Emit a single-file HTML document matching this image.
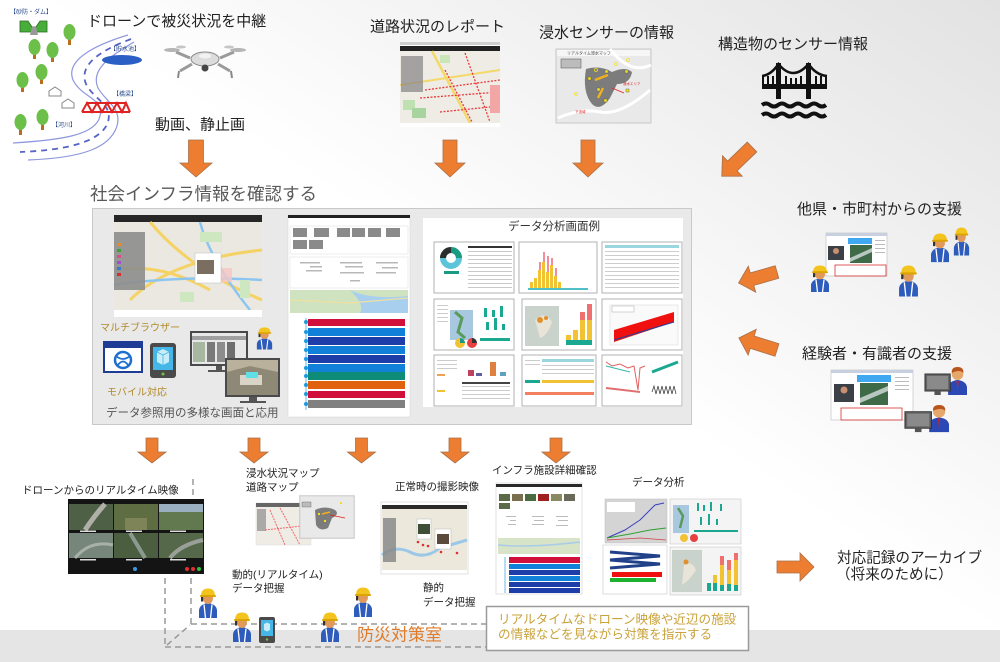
<!DOCTYPE html>
<html><head><meta charset="utf-8">
<style>
html,body{margin:0;padding:0;width:1000px;height:662px;overflow:hidden;background:#fff}
svg{display:block}
text{font-family:"Liberation Sans","Noto Sans CJK JP",sans-serif;dominant-baseline:central}
</style></head><body>
<svg width="1000" height="662" viewBox="0 0 1000 662" xmlns="http://www.w3.org/2000/svg">
<defs>
<linearGradient id="bg" x1="1" y1="0" x2="0" y2="1">
 <stop offset="0" stop-color="#e2e2e2"/>
 <stop offset="0.48" stop-color="#ffffff"/>
 <stop offset="1" stop-color="#ffffff"/>
</linearGradient>
<g id="wk">
 <path d="M1,30 L1,22 Q2,16 10,15 Q18,16 19,22 L19,30 Z" fill="#2d5cbc"/>
 <path d="M6,16.5 L7.5,30 M14,16.5 L12.5,30" stroke="#fff" stroke-width="1.3"/>
 <ellipse cx="10" cy="10.5" rx="5" ry="5.5" fill="#e19a5c"/>
 <path d="M3,8 Q3,0.5 10,0.5 Q17,0.5 17,8 Z" fill="#f4c41e"/>
 <rect x="2" y="7" width="16" height="2" rx="1" fill="#dca400"/>
 <rect x="3" y="9" width="2.2" height="4.5" fill="#333"/>
</g>
<g id="ex">
 <path d="M22,30 L22,22 Q23,16 31,15 Q39,16 40,22 L40,30 Z" fill="#2b48b4"/>
 <path d="M30,16 L31,28 L32,16 Z" fill="#d02020"/>
 <ellipse cx="31" cy="9" rx="5.5" ry="6" fill="#e6a86a"/>
 <path d="M25.5,8 Q25,2 31,2 Q37,2 36.5,8 Q33,4 25.5,8 Z" fill="#b8541c"/>
 <rect x="0" y="9" width="24" height="17" fill="#666" stroke="#333" stroke-width="1"/>
 <rect x="2" y="11" width="20" height="13" fill="#8a8a8a"/>
 <rect x="9" y="26" width="6" height="4" fill="#555"/>
</g>
<g id="ast"><polygon points="0,-6.5 26,-6.5 26,-13.5 40,0 26,13.5 26,6.5 0,6.5" fill="#ed7d31" stroke="#a9714a" stroke-width="0.8"/></g>
</defs>

<rect width="1000" height="662" fill="url(#bg)"/>
<rect x="0" y="630" width="1000" height="32" fill="#e5e5e5"/>

<!-- ===== Top-left illustration ===== -->
<text x="10" y="13" font-size="6" fill="#2a4a8a">【砂防・ダム】</text>
<path d="M20,21 L28,21 L32,27 L36,27 L40,21 L47,21 L47,32 L20,32 Z" fill="#49ad3c" stroke="#2a6a20" stroke-width="0.8"/>
<polygon points="32,27 36,27 38,35 30,35" fill="#999"/>
<g>
 <rect x="68" y="38" width="3" height="7" fill="#b86e1c"/><ellipse cx="69.5" cy="32" rx="6" ry="8" fill="#6cc04a"/>
 <rect x="33" y="52" width="3" height="7" fill="#b86e1c"/><ellipse cx="34.5" cy="47" rx="6" ry="8" fill="#6cc04a"/>
 <rect x="51" y="55" width="3" height="7" fill="#b86e1c"/><ellipse cx="52.5" cy="50" rx="6" ry="8" fill="#6cc04a"/>
 <rect x="40" y="77" width="3" height="7" fill="#b86e1c"/><ellipse cx="41.5" cy="72" rx="6" ry="8" fill="#6cc04a"/>
 <rect x="21" y="85" width="3" height="7" fill="#b86e1c"/><ellipse cx="22.5" cy="80" rx="6" ry="8" fill="#6cc04a"/>
 <rect x="19" y="128" width="3" height="7" fill="#b86e1c"/><ellipse cx="20.5" cy="122" rx="6" ry="8" fill="#6cc04a"/>
 <rect x="41" y="123" width="3" height="7" fill="#b86e1c"/><ellipse cx="42.5" cy="117" rx="6" ry="8" fill="#6cc04a"/>
</g>
<path d="M128,35 C95,45 65,60 73,80 C82,98 104,98 100,116 C96,135 62,140 13,143" fill="none" stroke="#8e98dc" stroke-width="1.2"/>
<path d="M131,39 C102,50 78,64 86,84 C94,100 113,104 108,122 C102,140 72,150 20,152" fill="none" stroke="#5563c4" stroke-width="1.8" stroke-dasharray="6 5"/>
<path d="M134,42 C110,56 90,70 98,88 C106,102 122,108 117,126 C110,148 82,158 28,160" fill="none" stroke="#8e98dc" stroke-width="1.2"/>
<text x="110" y="50" font-size="6" fill="#2a4a8a">【貯水池】</text>
<ellipse cx="122" cy="60" rx="20" ry="5" fill="#2b5fc6"/>
<text x="113" y="95" font-size="6" fill="#2a4a8a">【橋梁】</text>
<path d="M82,112 L130,112 M86,103 L126,103 M82,112 L87,103 L92,112 L97,103 L102,112 L107,103 L112,112 L117,103 L122,112 L126,103 L130,112" fill="none" stroke="#e02222" stroke-width="2"/>
<path d="M49,96 L49,91 L55,87 L61,91 L61,96 Z M62,108 L62,103 L68,99 L74,103 L74,108 Z" fill="#fff" stroke="#888" stroke-width="1"/>
<text x="52" y="126" font-size="6" fill="#2a4a8a">【河川】</text>

<text x="87" y="21.5" font-size="15" fill="#222">ドローンで被災状況を中継</text>
<!-- drone -->
<g>
 <path d="M190,58 L176,52 M220,58 L234,52 M192,64 L180,71 M218,64 L230,71" stroke="#9a9a9a" stroke-width="3"/>
 <ellipse cx="172" cy="50" rx="8" ry="2" fill="#b5b5b5"/><ellipse cx="238" cy="50" rx="8" ry="2" fill="#b5b5b5"/>
 <ellipse cx="181" cy="47" rx="5" ry="1.5" fill="#c5c5c5"/><ellipse cx="229" cy="47" rx="5" ry="1.5" fill="#c5c5c5"/>
 <path d="M179,71 L178,78 M231,71 L232,78" stroke="#888" stroke-width="2"/>
 <ellipse cx="205" cy="59" rx="14" ry="7" fill="#dcdcdc" stroke="#8a8a8a" stroke-width="1"/>
 <circle cx="205" cy="68" r="3.5" fill="#444"/>
 <ellipse cx="205" cy="56" rx="6" ry="2.5" fill="#f2f2f2"/>
</g>
<text x="155" y="125" font-size="15" fill="#222">動画、静止画</text>

<!-- ===== top middle ===== -->
<text x="370" y="27" font-size="15" fill="#222">道路状況のレポート</text>
<rect x="400" y="42" width="100" height="85" fill="#fff"/>
<rect x="400" y="42" width="100" height="3" fill="#cfcfcf"/>
<rect x="400" y="46" width="100" height="5" fill="#222"/>
<rect x="400" y="51" width="100" height="72" fill="#efece6"/>
<path d="M432,51 L470,123" stroke="#f3d86a" stroke-width="2.5"/>
<path d="M400,85 L500,70" stroke="#f3d86a" stroke-width="2"/>
<rect x="403" y="100" width="12" height="10" fill="#bfe0b0"/><rect x="412" y="108" width="14" height="10" fill="#a8d4a0"/>
<rect x="440" y="55" width="10" height="8" fill="#c8e6b8"/>
<path d="M465,53 L490,122 M445,70 L472,122 M425,90 L500,80 M420,98 L500,92 M440,112 L500,106" stroke="#e83a3a" stroke-width="1.3" stroke-dasharray="2 1.5"/>
<rect x="490" y="85" width="10" height="28" fill="#f2a6a6"/>
<rect x="401" y="56" width="22" height="36" fill="#8a8a8a" opacity="0.75"/>
<rect x="400" y="123" width="100" height="4" fill="#fff"/>

<text x="539" y="33" font-size="15" fill="#222">浸水センサーの情報</text>
<rect x="556" y="49" width="95" height="74" fill="#e9e9e9" stroke="#c8c8c8" stroke-width="1"/>
<rect x="557" y="50" width="93" height="6" fill="#f6f6f6"/>
<text x="567" y="53" font-size="4" fill="#444">リアルタイム浸水マップ</text>
<rect x="561" y="59" width="20" height="9" fill="#bcbcbc" stroke="#666" stroke-width="0.6"/>
<path d="M558,118 Q580,108 600,112 T650,90 M610,49 Q630,75 651,65" stroke="#fff" stroke-width="3" fill="none"/>
<path d="M586,69 Q600,65 612,72 Q625,66 632,72 Q630,84 617,84 L610,98 Q600,112 592,104 Q582,92 586,69 Z" fill="#7c7c7c"/>
<path d="M595,80 L608,75 M598,98 L603,88" stroke="#f0b020" stroke-width="2.5"/>
<g fill="#f5e020" stroke="#555" stroke-width="0.4"><rect x="588" y="77" width="3" height="3"/><rect x="605" y="70" width="3" height="3"/><rect x="597" y="88" width="3" height="3"/><rect x="604" y="99" width="3" height="3"/><rect x="625" y="70" width="3" height="3"/><rect x="626" y="89" width="3" height="3"/></g>
<g fill="none" stroke="#f5e020" stroke-width="0.8"><circle cx="596" cy="70" r="1.5"/><circle cx="616" cy="64" r="1.5"/><circle cx="628" cy="60" r="1.5"/><circle cx="576" cy="94" r="1.5"/></g>
<path d="M612,88 L624,93" stroke="#e02020" stroke-width="0.8"/>
<text x="623" y="84" font-size="3.5" fill="#e02020">浸水エリア</text>
<text x="575" y="112" font-size="3.5" fill="#e02020">下流域</text>

<text x="718" y="44.5" font-size="15" fill="#222">構造物のセンサー情報</text>
<g fill="#111">
 <rect x="776" y="63" width="5" height="36"/><rect x="806" y="63" width="5" height="36"/>
 <rect x="762" y="84" width="65" height="5"/>
 <rect x="762" y="76" width="2" height="8"/><rect x="767" y="76" width="2" height="8"/><rect x="772" y="76" width="2" height="8"/>
 <rect x="785" y="76" width="2" height="8"/><rect x="790" y="78" width="2" height="6"/><rect x="795" y="78" width="2" height="6"/><rect x="800" y="76" width="2" height="8"/>
 <rect x="815" y="76" width="2" height="8"/><rect x="820" y="76" width="2" height="8"/><rect x="825" y="76" width="2" height="8"/>
</g>
<path d="M762,76 Q771,75 778.5,64 Q793,82 808.5,64 Q816,75 827,76" fill="none" stroke="#111" stroke-width="2.5"/>
<path d="M762,105 q4,-3 8,0 t8,0 t8,0 t8,0 t8,0 t8,0 t8,0 t8,0 M762,115 q4,-3 8,0 t8,0 t8,0 t8,0 t8,0 t8,0 t8,0 t8,0" fill="none" stroke="#111" stroke-width="4"/>

<!-- top arrows -->
<g fill="#ed7d31" stroke="#a9714a" stroke-width="0.8">
 <polygon points="188.5,140 203.5,140 203.5,163 212,163 196,177 180,163 188.5,163"/>
 <polygon points="443,140 457,140 457,163 465,163 450,177 435,163 443,163"/>
 <polygon points="581,140 595,140 595,163 603,163 588,177 573,163 581,163"/>
</g>
<use href="#ast" transform="translate(752,147) rotate(136) scale(1.05)"/>

<text x="90" y="194" font-size="17.5" fill="#595959">社会インフラ情報を確認する</text>

<!-- ===== middle panel ===== -->
<rect x="92.5" y="208.5" width="599" height="216" fill="#e9e9e9" stroke="#c9c9c9" stroke-width="1"/>
<!-- map screenshot -->
<rect x="114" y="215" width="148" height="102" fill="#fff"/>
<rect x="114" y="215" width="148" height="7" fill="#262626"/>
<rect x="114" y="222" width="148" height="88" fill="#ebe8e2"/>
<path d="M130,300 Q170,260 262,250 M150,222 Q190,270 262,300 M114,270 Q160,262 210,290" stroke="#f4d263" stroke-width="3" fill="none"/>
<path d="M114,285 Q180,275 262,280 M200,222 Q210,260 250,310" stroke="#8cc6f0" stroke-width="2.5" fill="none"/>
<rect x="200" y="232" width="22" height="10" fill="#cde7c0"/><rect x="180" y="292" width="14" height="10" fill="#cde7c0"/><rect x="240" y="280" width="10" height="18" fill="#cde7c0"/>
<rect x="210" y="268" width="22" height="14" fill="#f6c6c6" opacity="0.8"/>
<rect x="114" y="232" width="31" height="58" fill="#8d8d8d" opacity="0.9"/>
<g fill="#e58a2e"><rect x="117" y="243" width="4" height="3"/></g><g fill="#3aa040"><rect x="117" y="249" width="4" height="3"/></g><g fill="#d94d8a"><rect x="117" y="255" width="4" height="3"/></g><g fill="#a04fd0"><rect x="117" y="261" width="4" height="3"/></g><g fill="#3a7ad0"><rect x="117" y="267" width="4" height="3"/></g><g fill="#d03030"><rect x="117" y="273" width="4" height="3"/></g>
<rect x="195" y="253" width="26" height="30" fill="#fff" stroke="#bbb" stroke-width="0.5"/>
<rect x="197" y="260" width="17" height="14" fill="#7a6e60"/>
<rect x="114" y="310" width="148" height="7" fill="#fff"/>
<!-- detail screenshot -->
<rect x="288" y="215" width="122" height="202" fill="#fff" stroke="#d4d4d4" stroke-width="0.5"/>
<rect x="288" y="215" width="122" height="3" fill="#222"/>
<rect x="290" y="226" width="118" height="28" fill="#fff" stroke="#ddd" stroke-width="0.5"/>
<g fill="#8a8a8a"><rect x="293" y="228" width="14" height="9"/><rect x="314" y="228" width="15" height="9"/><rect x="337" y="228" width="13" height="9"/><rect x="352" y="228" width="13" height="9"/><rect x="368" y="228" width="13" height="9"/><rect x="386" y="228" width="14" height="9"/><rect x="293" y="240" width="14" height="9"/><rect x="309" y="240" width="14" height="9"/></g>
<rect x="290" y="257" width="118" height="31" fill="#fff" stroke="#ddd" stroke-width="0.5"/>
<g fill="#b8b8b8"><rect x="300" y="262" width="20" height="1.5"/><rect x="310" y="266" width="12" height="1.5"/><rect x="306" y="270" width="16" height="1.5"/><rect x="340" y="262" width="22" height="1.5"/><rect x="345" y="266" width="18" height="1.5"/><rect x="340" y="272" width="24" height="1.5"/><rect x="376" y="262" width="22" height="1.5"/><rect x="382" y="267" width="16" height="1.5"/><rect x="376" y="272" width="20" height="1.5"/><rect x="350" y="280" width="10" height="1.5"/></g>
<rect x="290" y="290" width="118" height="23" fill="#cfe3c0"/>
<path d="M350,290 Q370,300 408,296 L408,313 L360,313 Q365,305 350,290 Z" fill="#a8d0ee"/>
<path d="M290,300 L350,303 L408,298" stroke="#f0e0a0" stroke-width="1.2" fill="none"/>
<line x1="306" y1="318" x2="306" y2="410" stroke="#9ad0f0" stroke-width="1.5"/>
<rect x="308" y="319" width="97" height="7" fill="#d0103a"/>
<rect x="308" y="328" width="97" height="8" fill="#1180d8"/>
<rect x="308" y="337" width="97" height="8" fill="#1d3ea8"/>
<rect x="308" y="346" width="97" height="8" fill="#1180d8"/>
<rect x="308" y="355" width="97" height="8" fill="#1d3ea8"/>
<rect x="308" y="364" width="97" height="8" fill="#1180d8"/>
<rect x="308" y="372" width="97" height="8" fill="#0e8c78"/>
<rect x="308" y="381" width="97" height="8" fill="#e0620e"/>
<rect x="308" y="391" width="97" height="7" fill="#d0103a"/>
<rect x="308" y="400" width="97" height="8" fill="#808080"/>
<g fill="#1a9be0"><circle cx="306" cy="322" r="2"/><circle cx="306" cy="332" r="2"/><circle cx="306" cy="341" r="2"/><circle cx="306" cy="350" r="2"/><circle cx="306" cy="359" r="2"/><circle cx="306" cy="368" r="2"/><circle cx="306" cy="376" r="2"/><circle cx="306" cy="385" r="2"/><circle cx="306" cy="394" r="2"/><circle cx="306" cy="404" r="2"/></g>

<!-- multi browser area -->
<text x="100" y="328.5" font-size="10" fill="#b08a2a">マルチブラウザー</text>
<rect x="104" y="342" width="38" height="30" fill="#fff" stroke="#1e3c96" stroke-width="2"/>
<rect x="104" y="342" width="38" height="6" fill="#1e3c96"/>
<circle cx="123" cy="360" r="8" fill="none" stroke="#1e70d0" stroke-width="2.5"/>
<path d="M116,356 Q123,362 130,356 M118,365 Q123,358 128,365" stroke="#1e70d0" stroke-width="1.8" fill="none"/>
<rect x="150" y="343" width="26" height="35" rx="3" fill="#4a4a4a"/>
<rect x="153" y="347" width="20" height="23" fill="#44b6e8"/>
<path d="M157,352 L163,349 L169,352 L169,362 L163,365 L157,362 Z" fill="#c8ecf8"/>
<path d="M157,352 L163,355 L169,352 M163,355 L163,365" stroke="#44b6e8" stroke-width="0.8" fill="none"/>
<circle cx="163" cy="374" r="1.5" fill="#7ac040"/>
<text x="107" y="393" font-size="10" fill="#b08a2a">モバイル対応</text>
<!-- monitors -->
<rect x="190" y="331" width="58" height="35" fill="#4a4a4a"/>
<rect x="192" y="333" width="54" height="31" fill="#e8e8e8"/>
<rect x="192" y="336" width="54" height="4" fill="#a0a0a0"/>
<rect x="193" y="342" width="12" height="20" fill="#a8b8a0"/>
<rect x="207" y="342" width="8" height="20" fill="#7a7a7a"/><rect x="217" y="342" width="8" height="20" fill="#8c8c8c"/><rect x="227" y="342" width="8" height="20" fill="#6e6e6e"/>
<rect x="216" y="366" width="6" height="4" fill="#555"/><rect x="208" y="370" width="22" height="2" fill="#555"/>
<rect x="225" y="358" width="55" height="39" fill="#4a4a4a"/>
<rect x="227" y="360" width="51" height="35" fill="#b9b19c"/>
<path d="M227,372 L250,366 L278,372 L278,395 L227,395 Z" fill="#8e8876"/>
<rect x="240" y="375" width="22" height="10" fill="#d8d4c8"/>
<rect x="246" y="372" width="12" height="6" fill="#5ee0e6"/>
<rect x="249" y="397" width="8" height="4" fill="#555"/><rect x="240" y="401" width="26" height="2" fill="#555"/>
<use href="#wk" transform="translate(256,327) scale(0.85,0.75)"/>
<text x="106" y="413.5" font-size="11.5" fill="#555">データ参照用の多様な画面と応用</text>

<!-- data analysis panel -->
<rect x="423" y="218" width="260" height="189" fill="#fff"/>
<text x="508" y="227" font-size="11.5" fill="#333">データ分析画面例</text>
<g fill="#fff" stroke="#bdbdbd" stroke-width="1.2">
 <rect x="434" y="242" width="80" height="51"/><rect x="519" y="242" width="78" height="51"/><rect x="602" y="242" width="80" height="51"/>
 <rect x="434" y="299" width="80" height="51"/><rect x="522" y="299" width="74" height="51"/><rect x="602" y="299" width="80" height="51"/>
 <rect x="434" y="355" width="80" height="51"/><rect x="522" y="355" width="74" height="51"/><rect x="602" y="355" width="80" height="51"/>
</g>
<!-- R1C1 donut -->
<circle cx="451" cy="258" r="8" fill="none" stroke="#5cc4d8" stroke-width="6"/>
<path d="M451,250 A8,8 0 0 1 459,258" fill="none" stroke="#1a9a80" stroke-width="6"/>
<path d="M443,258 A8,8 0 0 1 451,250" fill="none" stroke="#2d2d2d" stroke-width="6"/>
<rect x="444" y="271" width="15" height="3" fill="#1a9a80"/>
<g fill="#c9c9c9"><rect x="468" y="246" width="44" height="2" fill="#333"/><rect x="468" y="251" width="44" height="1"/><rect x="468" y="255" width="44" height="1"/><rect x="468" y="259" width="44" height="1"/><rect x="468" y="263" width="44" height="1"/><rect x="468" y="267" width="44" height="1"/><rect x="468" y="271" width="44" height="1"/><rect x="468" y="275" width="44" height="1"/><rect x="468" y="279" width="44" height="1"/><rect x="468" y="283" width="44" height="1"/><rect x="468" y="287" width="44" height="1"/></g>
<!-- R1C2 histogram -->
<g fill="#f1c232"><rect x="530" y="282" width="3" height="8"/><rect x="534" y="278" width="3" height="12"/><rect x="538" y="270" width="3" height="20"/><rect x="542" y="262" width="3" height="28"/><rect x="546" y="272" width="3" height="18"/><rect x="550" y="265" width="3" height="25"/><rect x="554" y="276" width="3" height="14"/><rect x="558" y="282" width="3" height="8"/></g>
<g fill="#f08c9c"><rect x="539" y="262" width="2" height="8"/><rect x="543" y="252" width="2" height="10"/><rect x="547" y="256" width="2" height="16"/><rect x="551" y="258" width="2" height="7"/><rect x="555" y="268" width="2" height="8"/></g>
<rect x="528" y="288" width="60" height="2" fill="#4fc0c8"/>
<!-- R1C3 table -->
<rect x="605" y="245" width="74" height="3" fill="#9ad6e0"/>
<g fill="#cdcdcd"><rect x="605" y="251" width="74" height="1"/><rect x="605" y="255" width="74" height="1"/><rect x="605" y="259" width="74" height="1"/><rect x="605" y="263" width="74" height="1"/><rect x="605" y="267" width="74" height="1"/><rect x="605" y="271" width="74" height="1"/><rect x="605" y="275" width="74" height="1"/><rect x="605" y="279" width="74" height="1"/><rect x="605" y="283" width="74" height="1"/><rect x="605" y="287" width="74" height="1"/></g>
<!-- R2C1 -->
<rect x="450" y="310" width="23" height="30" fill="#a8c8e0"/><path d="M455,312 L462,318 L458,332 L465,338" stroke="#5a9a5a" stroke-width="3" fill="none"/>
<g fill="#1aa890"><rect x="478" y="305" width="34" height="12" fill="#fff"/><rect x="484" y="308" width="3" height="9"/><rect x="492" y="310" width="3" height="7"/><rect x="500" y="306" width="3" height="11"/><rect x="486" y="322" width="3" height="8"/><rect x="494" y="318" width="3" height="12"/><rect x="502" y="324" width="3" height="6"/><rect x="480" y="338" width="30" height="3"/></g>
<circle cx="460" cy="343" r="5" fill="#f1c232"/><path d="M460,343 L460,338 A5,5 0 0 1 465,343 Z" fill="#1a9a80"/>
<circle cx="472" cy="343" r="5" fill="#e84040"/><path d="M472,343 L472,338 A5,5 0 0 1 477,343 Z" fill="#333"/>
<g fill="#ccc"><rect x="437" y="305" width="11" height="1"/><rect x="437" y="309" width="11" height="1"/><rect x="437" y="313" width="11" height="1"/><rect x="437" y="317" width="11" height="1"/><rect x="437" y="321" width="11" height="1"/></g>
<!-- R2C2 -->
<rect x="525" y="306" width="34" height="40" fill="#c9d3cc"/><path d="M535,320 Q545,310 552,322 Q548,335 540,338" fill="#e8e4d8"/>
<circle cx="540" cy="320" r="3" fill="#e0902c"/><circle cx="546" cy="318" r="2" fill="#e0902c"/>
<g><rect x="566" y="335" width="5" height="10" fill="#f1c232"/><rect x="573" y="330" width="5" height="15" fill="#f1c232"/><rect x="580" y="320" width="5" height="25" fill="#f1c232"/><rect x="580" y="312" width="5" height="8" fill="#f07070"/><rect x="587" y="320" width="5" height="25" fill="#f1c232"/><rect x="587" y="304" width="5" height="16" fill="#f07070"/><rect x="566" y="340" width="26" height="5" fill="#1aa890"/></g>
<!-- R2C3 scatter -->
<g fill="#fafafa" stroke="#ccc" stroke-width="0.4"><rect x="610" y="305" width="68" height="40"/></g>
<path d="M614,330 L674,312 L674,322 L614,342 Z" fill="#f01010"/>
<path d="M614,340 L674,322" stroke="#2040a0" stroke-width="1" fill="none"/>
<rect x="612" y="306" width="22" height="6" fill="#fff" stroke="#999" stroke-width="0.4"/>
<!-- R3C1 -->
<g fill="#ccc"><rect x="437" y="360" width="20" height="1"/><rect x="437" y="364" width="20" height="1"/><rect x="437" y="368" width="20" height="1"/><rect x="437" y="374" width="8" height="2" fill="#f0a050"/><rect x="437" y="390" width="8" height="2" fill="#f1c232"/><rect x="462" y="382" width="48" height="2" fill="#444"/><rect x="462" y="386" width="48" height="1"/><rect x="462" y="390" width="48" height="1"/><rect x="462" y="394" width="48" height="1"/><rect x="462" y="398" width="48" height="1"/></g>
<g><rect x="468" y="370" width="6" height="6" fill="#c04060"/><rect x="476" y="373" width="6" height="3" fill="#6060a0"/><rect x="490" y="362" width="6" height="14" fill="#e08040"/><rect x="500" y="372" width="6" height="4" fill="#60a0c0"/></g>
<!-- R3C2 -->
<rect x="542" y="359" width="52" height="3" fill="#9ad6e0"/>
<g fill="#ccc"><rect x="525" y="360" width="15" height="1"/><rect x="525" y="364" width="15" height="1"/><rect x="542" y="365" width="52" height="1"/><rect x="542" y="369" width="52" height="1"/><rect x="542" y="373" width="52" height="1"/></g>
<rect x="525" y="380" width="15" height="3" fill="#1aa890"/><rect x="542" y="380" width="52" height="3" fill="#f1c232"/>
<rect x="525" y="392" width="69" height="3" fill="#f08060"/>
<!-- R3C3 -->
<path d="M606,362 L612,366 L620,364 L628,368 L634,366 L638,390 L640,368 L645,366" stroke="#e06060" stroke-width="1" fill="none"/>
<path d="M606,366 L630,372" stroke="#30b8a8" stroke-width="1" fill="none"/>
<path d="M652,372 L678,362" stroke="#1aa890" stroke-width="3" fill="none"/>
<path d="M606,388 L640,392" stroke="#e07070" stroke-width="2" fill="none"/>
<path d="M652,392 l2,-6 l2,8 l2,-8 l2,8 l2,-8 l2,8 l2,-8 l2,8 l2,-8 l2,8 l2,-8 l2,8" stroke="#444" stroke-width="0.8" fill="none"/>

<!-- ===== right side ===== -->
<text x="797" y="209.5" font-size="15" fill="#222">他県・市町村からの支援</text>
<use href="#ast" transform="translate(777,272) rotate(164)"/>
<rect x="826" y="233" width="61" height="43" fill="#fff" stroke="#bbb" stroke-width="0.6"/>
<rect x="826" y="233" width="61" height="3" fill="#c8d0e0"/>
<rect x="828" y="246" width="16" height="14" fill="#3a4046"/><circle cx="836" cy="251" r="3" fill="#c89070"/>
<rect x="848" y="238" width="24" height="6" fill="#40a8f0"/>
<rect x="850" y="245" width="22" height="18" fill="#3e6a48"/><path d="M850,258 L872,248 L872,252 L850,262 Z" fill="#b8c8c0"/>
<g fill="#bbb"><rect x="875" y="240" width="10" height="1"/><rect x="875" y="244" width="10" height="1"/><rect x="875" y="248" width="10" height="1"/><rect x="875" y="252" width="10" height="1"/></g>
<rect x="835" y="265" width="51" height="11" fill="none" stroke="#d83030" stroke-width="0.8"/>
<use href="#wk" transform="translate(953,227) scale(0.85,0.95)"/>
<use href="#wk" transform="translate(930,233) scale(1,0.97)"/>
<use href="#wk" transform="translate(810,265) scale(1,0.9)"/>
<use href="#wk" transform="translate(898,265) scale(1.05,1.05)"/>

<text x="802" y="354" font-size="15" fill="#222">経験者・有識者の支援</text>
<use href="#ast" transform="translate(777,350) rotate(197.5)"/>
<rect x="831" y="370" width="82" height="50" fill="#fff" stroke="#bbb" stroke-width="0.6"/>
<rect x="831" y="370" width="82" height="3" fill="#c8d0e0"/>
<rect x="834" y="384" width="20" height="18" fill="#3a4046"/><circle cx="844" cy="390" r="3.5" fill="#c89070"/>
<rect x="857" y="375" width="34" height="7" fill="#40a8f0"/>
<rect x="860" y="383" width="28" height="22" fill="#3e6a48"/><path d="M860,398 L888,386 L888,391 L860,403 Z" fill="#b8c8c0"/>
<g fill="#bbb"><rect x="895" y="377" width="14" height="1"/><rect x="895" y="381" width="14" height="1"/><rect x="895" y="385" width="14" height="1"/><rect x="895" y="389" width="14" height="1"/></g>
<rect x="841" y="408" width="61" height="12" fill="none" stroke="#d83030" stroke-width="0.8"/>
<use href="#ex" transform="translate(925,365) scale(1.05,1.0)"/>
<use href="#ex" transform="translate(905,403) scale(1.1,0.97)"/>

<!-- ===== bottom arrows ===== -->
<g fill="#ed7d31" stroke="#a9714a" stroke-width="0.8">
 <polygon points="146,438 158,438 158,452 166,452 152,463 138,452 146,452"/>
 <polygon points="248,438 260,438 260,452 268,452 254,463 240,452 248,452"/>
 <polygon points="355.5,438 367.5,438 367.5,452 375.5,452 361.5,463 347.5,452 355.5,452"/>
 <polygon points="449,438 461,438 461,452 469,452 455,463 441,452 449,452"/>
 <polygon points="550,438 562,438 562,452 570,452 556,463 542,452 550,452"/>
 <polygon points="777,561 800,561 800,553 814,567 800,581 800,573 777,573"/>
</g>

<!-- dashed floor lines -->
<g stroke="#9a9a9a" stroke-width="1.5" stroke-dasharray="6 4" fill="none">
 <line x1="193" y1="479" x2="193" y2="497"/>
 <line x1="165" y1="578" x2="165" y2="647"/>
 <line x1="191" y1="578" x2="191" y2="624"/>
 <line x1="191" y1="624" x2="486" y2="624"/>
 <line x1="165" y1="647" x2="486" y2="647"/>
 <line x1="167" y1="645" x2="190" y2="625"/>
</g>

<!-- bottom: drone realtime video -->
<text x="22" y="490.5" font-size="10.5" fill="#222">ドローンからのリアルタイム映像</text>
<rect x="68" y="499" width="136" height="75" fill="#141414"/>
<rect x="69" y="504" width="44" height="26" fill="#4e6046"/><path d="M85,530 Q95,515 105,504" stroke="#b0b0a8" stroke-width="5" fill="none"/>
<rect x="114" y="504" width="44" height="26" fill="#5f6e42"/><rect x="125" y="518" width="22" height="12" fill="#7e8458"/>
<rect x="159" y="504" width="44" height="26" fill="#62784e"/><rect x="159" y="504" width="44" height="8" fill="#9ab0c0"/>
<rect x="69" y="533" width="44" height="25" fill="#76867a"/><path d="M75,558 Q90,540 113,545" stroke="#a8b0a8" stroke-width="3" fill="none"/>
<rect x="114" y="533" width="44" height="25" fill="#4c5e40"/><path d="M130,533 L145,558" stroke="#8a9a90" stroke-width="4"/>
<rect x="159" y="533" width="44" height="25" fill="#56684a"/><path d="M170,558 Q180,545 203,540" stroke="#9aa098" stroke-width="4" fill="none"/>
<g fill="#ddd"><rect x="80" y="530.5" width="16" height="1.5"/><rect x="126" y="530.5" width="16" height="1.5"/><rect x="170" y="530.5" width="16" height="1.5"/><rect x="80" y="559" width="16" height="1.5"/><rect x="126" y="559" width="16" height="1.5"/><rect x="170" y="559" width="16" height="1.5"/></g>
<circle cx="135" cy="569" r="2" fill="#3a9ae8"/><circle cx="187" cy="569" r="2" fill="#e03030"/><circle cx="193" cy="569" r="2" fill="#e03030"/><circle cx="199" cy="569" r="2" fill="#30c040"/>

<!-- flood/road map -->
<text x="246" y="473.5" font-size="10.5" fill="#222">浸水状況マップ</text>
<text x="246" y="487.5" font-size="10.5" fill="#222">道路マップ</text>
<rect x="256" y="503" width="55" height="42" fill="#efece6" stroke="#ddd" stroke-width="0.5"/>
<rect x="256" y="503" width="55" height="4" fill="#666"/>
<rect x="257" y="509" width="9" height="22" fill="#999" opacity="0.8"/>
<path d="M270,510 L285,545 M280,508 L300,545 M265,530 L311,525" stroke="#ef6a6a" stroke-width="1" stroke-dasharray="2 1" fill="none"/>
<rect x="299" y="495" width="56" height="44" fill="#bbb" opacity="0.5"/>
<rect x="300" y="496" width="54" height="42" fill="#e9e9e9" stroke="#c8c8c8" stroke-width="0.6"/>
<rect x="302" y="502" width="9" height="5" fill="#bbb" stroke="#666" stroke-width="0.4"/>
<path d="M315,510 Q325,505 335,510 Q340,514 332,518 L328,528 Q320,532 316,525 Z" fill="#7c7c7c"/>
<path d="M322,514 L330,512" stroke="#f0b020" stroke-width="1.5"/>
<path d="M330,515 L345,518" stroke="#e02020" stroke-width="0.8"/>
<g fill="#f5e020"><rect x="318" y="513" width="2" height="2"/><rect x="324" y="520" width="2" height="2"/><rect x="340" y="502" width="2" height="2"/></g>

<text x="232" y="575" font-size="10.5" fill="#222">動的(リアルタイム)</text>
<text x="232" y="588.5" font-size="10.5" fill="#222">データ把握</text>

<!-- normal-time footage -->
<text x="395" y="487" font-size="10.5" fill="#222">正常時の撮影映像</text>
<rect x="381" y="502" width="87" height="72" fill="#fff" stroke="#ccc" stroke-width="0.6"/>
<rect x="382" y="505" width="85" height="4" fill="#2a2a2a"/>
<rect x="382" y="509" width="85" height="61" fill="#ece8dc"/>
<path d="M382,555 Q395,545 410,552 Q425,560 440,548 L467,540" stroke="#9cc8e8" stroke-width="3" fill="none"/>
<rect x="383" y="518" width="13" height="44" fill="#8a8a8a" opacity="0.85"/>
<rect x="417" y="519" width="14" height="20" fill="#fff" stroke="#aaa" stroke-width="0.4"/><rect x="418" y="524" width="12" height="10" fill="#3f4e36"/>
<rect x="435" y="529" width="16" height="20" fill="#fff" stroke="#aaa" stroke-width="0.4"/><rect x="437" y="534" width="12" height="10" fill="#5a4a3a"/>
<g fill="#e03030"><circle cx="418" cy="542" r="1.3"/><circle cx="423" cy="545" r="1.3"/><circle cx="428" cy="546" r="1.3"/><circle cx="441" cy="552" r="1.3"/><circle cx="457" cy="553" r="1.3"/></g>
<text x="423" y="588" font-size="10.5" fill="#222">静的</text>
<text x="423" y="602.5" font-size="10.5" fill="#222">データ把握</text>

<!-- infra detail -->
<text x="492" y="470.5" font-size="10.5" fill="#222">インフラ施設詳細確認</text>
<rect x="496" y="483" width="86" height="111" fill="#fff" stroke="#ccc" stroke-width="0.6"/>
<rect x="496" y="484" width="86" height="3" fill="#2a2a2a"/>
<g fill="#5a6a48"><rect x="499" y="494" width="11" height="7"/><rect x="512" y="494" width="11" height="7" fill="#7a7050"/><rect x="525" y="494" width="11" height="7" fill="#4a6a40"/><rect x="538" y="494" width="11" height="7" fill="#a02020"/><rect x="551" y="494" width="11" height="7" fill="#8a8a60"/><rect x="564" y="494" width="11" height="7" fill="#6a6a5a"/><rect x="499" y="503" width="11" height="6"/></g>
<g fill="#bbb"><rect x="506" y="516" width="10" height="1"/><rect x="510" y="520" width="6" height="1"/><rect x="508" y="524" width="8" height="1"/><rect x="532" y="516" width="12" height="1"/><rect x="534" y="520" width="10" height="1"/><rect x="532" y="524" width="12" height="1"/><rect x="556" y="516" width="12" height="1"/><rect x="558" y="520" width="10" height="1"/><rect x="556" y="525" width="12" height="1"/></g>
<rect x="498" y="538" width="82" height="16" fill="#d8e4c8"/><path d="M498,545 Q530,548 580,542" stroke="#a8cce8" stroke-width="1.5" fill="none"/>
<rect x="509" y="557" width="71" height="6" fill="#d0103a"/>
<rect x="509" y="564" width="71" height="5" fill="#1180d8"/>
<rect x="509" y="570" width="71" height="5" fill="#1d3ea8"/>
<rect x="509" y="576" width="71" height="5" fill="#1180d8"/>
<rect x="509" y="582" width="71" height="5" fill="#1d3ea8"/>
<rect x="509" y="588" width="71" height="5" fill="#1d3ea8"/>
<line x1="505" y1="557" x2="505" y2="593" stroke="#9ad0f0" stroke-width="1.5"/>

<!-- data analysis bottom -->
<text x="632" y="482.5" font-size="10.5" fill="#222">データ分析</text>
<rect x="605" y="499" width="62" height="44" fill="#d4d4d4" stroke="#bbb" stroke-width="0.5"/>
<rect x="607" y="502" width="28" height="10" fill="#fff"/>
<path d="M607,538 L625,530 L640,520 L655,505 L664,503" stroke="#3840c0" stroke-width="1" fill="none"/>
<path d="M607,538 L630,534 L650,530 L666,528" stroke="#30a030" stroke-width="1" fill="none"/>
<path d="M607,540 L640,538 L666,540" stroke="#d04040" stroke-width="0.8" fill="none"/>
<rect x="670" y="499" width="71" height="45" fill="#f4f4f4" stroke="#bbb" stroke-width="0.5"/>
<rect x="673" y="505" width="16" height="28" fill="#a8c8e0"/><path d="M678,508 L683,516 L680,528" stroke="#5a9a5a" stroke-width="2.5" fill="none"/>
<g fill="#1aa890"><rect x="697" y="503" width="2" height="8"/><rect x="703" y="505" width="2" height="6"/><rect x="710" y="502" width="2" height="9"/><rect x="720" y="504" width="2" height="7"/><rect x="700" y="517" width="2" height="8"/><rect x="708" y="514" width="2" height="11"/><rect x="716" y="519" width="2" height="6"/><rect x="694" y="530" width="44" height="2"/></g>
<circle cx="684" cy="538" r="4" fill="#f1c232"/><circle cx="694" cy="538" r="4" fill="#e84040"/>
<rect x="603" y="545" width="64" height="49" fill="#fff" stroke="#bbb" stroke-width="0.5"/>
<path d="M610,552 L660,556 L610,560 L660,564 L610,568" stroke="#20408a" stroke-width="3" fill="none"/>
<rect x="612" y="572" width="50" height="5" fill="#f01010"/>
<rect x="610" y="578" width="46" height="4" fill="#20b030"/>
<rect x="670" y="547" width="71" height="48" fill="#f4f4f4" stroke="#bbb" stroke-width="0.5"/>
<rect x="672" y="550" width="30" height="42" fill="#c9d3cc"/><path d="M684,565 Q692,560 696,570 Q690,580 682,585" fill="#e8e4d8"/>
<circle cx="686" cy="562" r="2.5" fill="#e0902c"/>
<g><rect x="707" y="583" width="4" height="8" fill="#1aa890"/><rect x="713" y="575" width="4" height="8" fill="#f1c232"/><rect x="713" y="583" width="4" height="8" fill="#1aa890"/><rect x="720" y="565" width="4" height="20" fill="#f1c232"/><rect x="720" y="556" width="4" height="9" fill="#f07070"/><rect x="720" y="585" width="4" height="6" fill="#1aa890"/><rect x="727" y="570" width="4" height="14" fill="#f1c232"/><rect x="727" y="560" width="4" height="10" fill="#f07070"/><rect x="727" y="584" width="4" height="7" fill="#1aa890"/><rect x="734" y="560" width="4" height="25" fill="#f1c232"/><rect x="734" y="553" width="4" height="7" fill="#f07070"/><rect x="734" y="585" width="4" height="6" fill="#1aa890"/></g>

<!-- workers bottom -->
<use href="#wk" transform="translate(198,588)"/>
<use href="#wk" transform="translate(232,612)"/>
<rect x="259" y="617" width="16" height="26" rx="2" fill="#4a4a4a"/>
<rect x="261" y="620" width="12" height="16" fill="#44b6e8"/>
<path d="M264,624 L267,622.5 L270,624 L270,630 L267,631.5 L264,630 Z" fill="#c8ecf8"/>
<circle cx="267" cy="639.5" r="1.2" fill="#7ac040"/>
<use href="#wk" transform="translate(320,612)"/>
<use href="#wk" transform="translate(353,587)"/>
<text x="357" y="635" font-size="17" fill="#e07b2a">防災対策室</text>

<!-- instruction box -->
<rect x="486.5" y="606.5" width="262" height="44" fill="#fff" stroke="#9a9a9a" stroke-width="1.5"/>
<text x="498" y="619.5" font-size="12.6" fill="#c9a23a">リアルタイムなドローン映像や近辺の施設</text>
<text x="498" y="634.5" font-size="12.6" fill="#c9a23a">の情報などを見ながら対策を指示する</text>

<!-- archive -->
<text x="837" y="558.5" font-size="14.6" fill="#222">対応記録のアーカイブ</text>
<text x="836" y="575" font-size="14.6" fill="#222">（将来のために）</text>
</svg>
</body></html>
